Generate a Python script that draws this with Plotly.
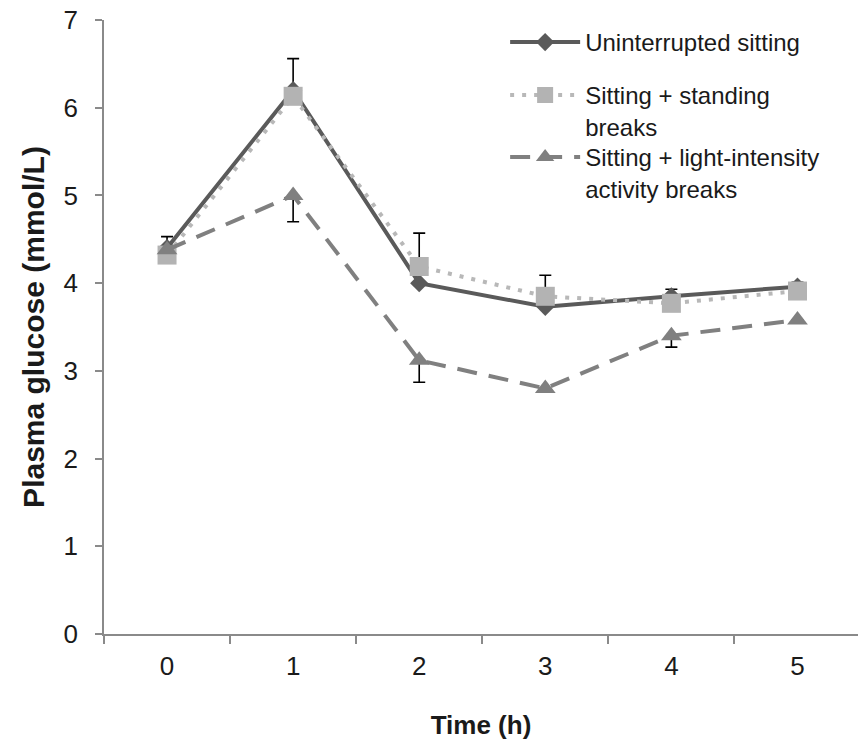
import plotly.graph_objects as go

time_labels = ["0", "1", "2", "3", "4", "5"]

sitting = [4.40, 6.20, 4.00, 3.73, 3.85, 3.96]
sitting_err_up = [0.13, 0.36, 0.0, 0.0, 0.08, 0.05]

standing = [4.32, 6.13, 4.19, 3.85, 3.77, 3.91]
standing_err_up = [0.0, 0.0, 0.38, 0.24, 0.0, 0.0]

activity = [4.38, 5.00, 3.12, 2.80, 3.40, 3.58]
activity_err_down = [0.0, 0.30, 0.25, 0.0, 0.13, 0.0]

zeros = [0, 0, 0, 0, 0, 0]

font_main = "Liberation Sans, Arial, sans-serif"

fig = go.Figure()

fig.add_trace(go.Scatter(
    x=time_labels, y=sitting, name="Uninterrupted sitting",
    mode="lines+markers",
    line=dict(color="#5a5a5a", width=4),
    marker=dict(symbol="diamond", size=14, color="#5a5a5a"),
    error_y=dict(type="data", symmetric=False, array=sitting_err_up, arrayminus=zeros,
                 color="black", thickness=1.6, width=6),
    legend="legend", showlegend=True,
))

fig.add_trace(go.Scatter(
    x=time_labels, y=standing, name="Sitting + standing<br>breaks",
    mode="lines+markers",
    line=dict(color="#b8b8b8", width=4, dash="4px,8px"),
    marker=dict(symbol="square", size=19, color="#b3b3b3"),
    error_y=dict(type="data", symmetric=False, array=standing_err_up, arrayminus=zeros,
                 color="black", thickness=1.6, width=6),
    legend="legend2", showlegend=True,
))

fig.add_trace(go.Scatter(
    x=time_labels, y=activity, name="Sitting + light-intensity<br>activity breaks",
    mode="lines+markers",
    line=dict(color="#808080", width=4, dash="20px,12px"),
    marker=dict(symbol="triangle-up", size=18, color="#808080"),
    error_y=dict(type="data", symmetric=False, array=zeros, arrayminus=activity_err_down,
                 color="black", thickness=1.6, width=6),
    legend="legend3", showlegend=True,
))

legend_common = dict(
    x=0.532, xanchor="left", yanchor="top", valign="top",
    font=dict(family=font_main, size=24, color="#1a1a1a"),
    itemwidth=70, bgcolor="rgba(0,0,0,0)",
)

fig.update_layout(
    width=858, height=747,
    margin=dict(l=104, r=0, t=20, b=113),
    showlegend=True,
    paper_bgcolor="white", plot_bgcolor="white",
    font=dict(family=font_main, color="#1a1a1a"),
    legend=dict(y=1.0, **legend_common),
    legend2=dict(y=0.9137, **legend_common),
    legend3=dict(y=0.8127, **legend_common),
    xaxis=dict(
        type="category",
        range=[-0.5, 5.48],
        automargin=False,
        showline=True, linecolor="#8a8a8a", linewidth=1.5,
        ticks="outside", ticklen=8, tickcolor="#8a8a8a", tickwidth=1.5,
        tickson="boundaries",
        ticklabelstandoff=8,
        showgrid=False, zeroline=False,
        tickfont=dict(family=font_main, size=26, color="#1a1a1a"),
        title=dict(text="<b>Time (h)</b>", font=dict(family=font_main, size=26, color="#1a1a1a"),
                   standoff=36),
    ),
    yaxis=dict(
        range=[0, 7], dtick=1,
        automargin=False,
        showline=True, linecolor="#8a8a8a", linewidth=1.5,
        ticks="outside", ticklen=7, tickcolor="#8a8a8a", tickwidth=1.5,
        ticklabelstandoff=12, ticklabeloverflow="allow",
        showgrid=False, zeroline=False,
        tickfont=dict(family=font_main, size=26, color="#1a1a1a"),
        title=dict(text="<b>Plasma glucose (mmol/L)</b>", font=dict(family=font_main, size=30, color="#1a1a1a"),
                   standoff=10),
    ),
)

fig.write_html(
    "out.html",
    config={"displayModeBar": False},
    post_script="document.body.style.margin='0';document.body.style.overflow='hidden';",
)
